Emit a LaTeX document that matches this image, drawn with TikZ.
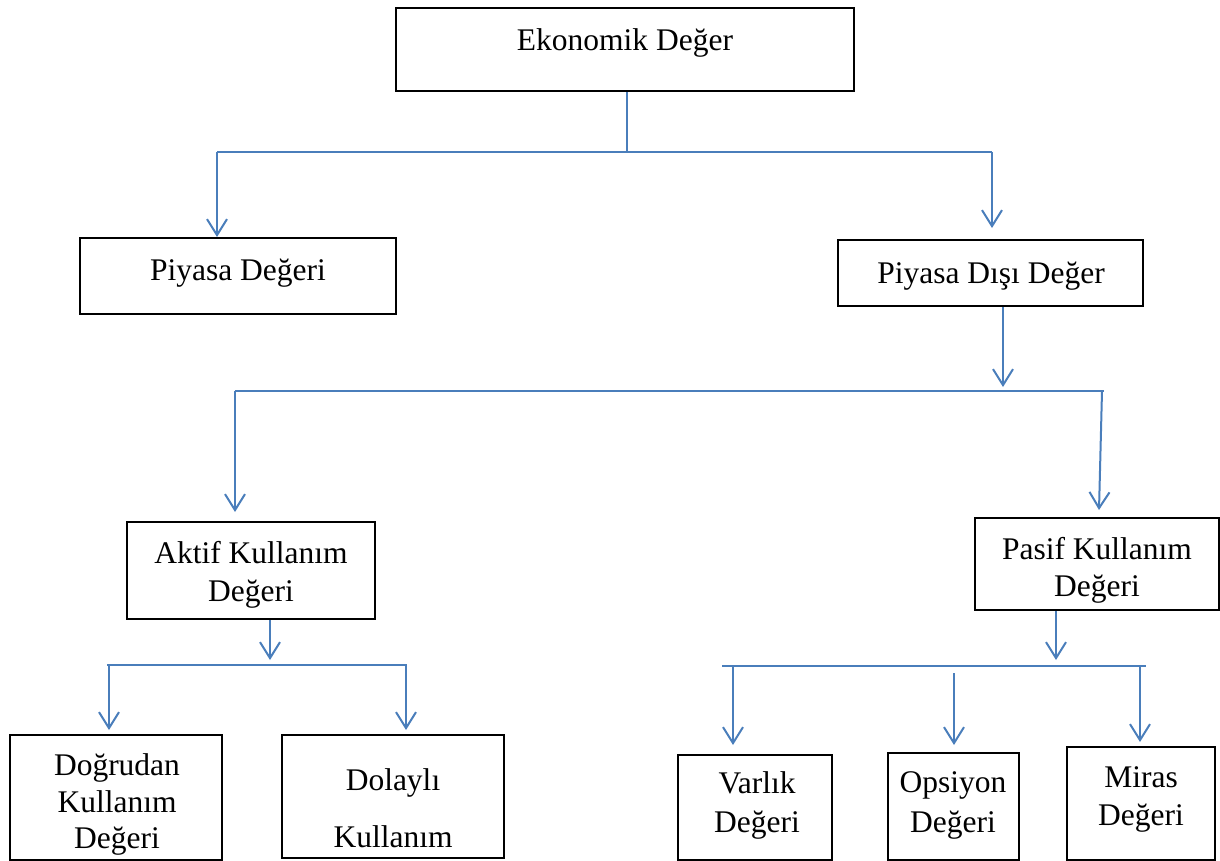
\documentclass[tikz,border=0pt]{standalone}
\usepackage{fontspec}
\setmainfont{Liberation Serif}
\usetikzlibrary{arrows.meta}
\definecolor{lnblue}{HTML}{4A7EBB}
\tikzset{
  box/.style={draw=black, line width=2pt, rectangle, inner sep=0pt},
  lbl/.style={anchor=base, inner sep=0pt, font=\fontsize{31.5}{38}\selectfont},
  conn/.style={draw=lnblue, line width=2pt},
  arr/.style={conn, -{Straight Barb[length=16pt, width=20pt, line width=2pt]}}
}
\begin{document}
\begin{tikzpicture}[x=1pt,y=-1pt]
\useasboundingbox (0,0) rectangle (1220,861);
% boxes
\node[box, minimum width=458pt, minimum height=83pt] (eco) at (625,49.5) {};
\node[box, minimum width=316pt, minimum height=76pt] (piyasa) at (238,276) {};
\node[box, minimum width=305pt, minimum height=66pt] (disi) at (990.5,273) {};
\node[box, minimum width=248pt, minimum height=97pt] (aktif) at (251,570.5) {};
\node[box, minimum width=244pt, minimum height=92pt] (pasif) at (1096.5,564) {};
\node[box, minimum width=212pt, minimum height=125pt] (dogru) at (116,797.5) {};
\node[box, minimum width=222pt, minimum height=123pt] (dolayli) at (393,796.5) {};
\node[box, minimum width=154pt, minimum height=105pt] (varlik) at (755,807.5) {};
\node[box, minimum width=131pt, minimum height=107pt] (opsiyon) at (953.5,806.5) {};
\node[box, minimum width=148pt, minimum height=113pt] (miras) at (1141,803.5) {};
% texts
\node[lbl] (t-eco) at (625,51) {Ekonomik Değer};
\node[lbl] (t-piyasa) at (238,280) {Piyasa Değeri};
\node[lbl] (t-disi) at (991,283) {Piyasa Dışı Değer};
\node[lbl] (t-aktif1) at (251,563) {Aktif Kullanım};
\node[lbl] (t-aktif2) at (251,601) {Değeri};
\node[lbl] (t-pasif1) at (1097,559) {Pasif Kullanım};
\node[lbl] (t-pasif2) at (1097,596) {Değeri};
\node[lbl] (t-dogru1) at (117,775) {Doğrudan};
\node[lbl] (t-dogru2) at (117,812) {Kullanım};
\node[lbl] (t-dogru3) at (117,848) {Değeri};
\node[lbl] (t-dol1) at (393,790) {Dolaylı};
\node[lbl] (t-dol2) at (393,847) {Kullanım};
\node[lbl] (t-var1) at (757,793) {Varlık};
\node[lbl] (t-var2) at (757,832) {Değeri};
\node[lbl] (t-ops1) at (953,792) {Opsiyon};
\node[lbl] (t-ops2) at (953,832) {Değeri};
\node[lbl] (t-mir1) at (1141,787) {Miras};
\node[lbl] (t-mir2) at (1141,825) {Değeri};
% junction coordinates
\coordinate (j0) at (627,152);
\coordinate (a1) at (217,152);
\coordinate (a2) at (992,152);
\coordinate (a2t) at (992,228);
\coordinate (b0) at (1003,387);
\coordinate (b1) at (235,391);
\coordinate (b2) at (1104,391);
\coordinate (b1t) at (235,512);
\coordinate (b2s) at (1102,391);
\coordinate (b2t) at (1099,510);
\coordinate (c0) at (270,660);
\coordinate (c1) at (107,665);
\coordinate (c2) at (407,665);
\coordinate (c1s) at (109,665);
\coordinate (c1t) at (109,730);
\coordinate (c2s) at (406,665);
\coordinate (c2t) at (406,730);
\coordinate (d0) at (1056,660);
\coordinate (d1) at (722,666);
\coordinate (d2) at (1146,666);
\coordinate (d1s) at (733,667);
\coordinate (d1t) at (733,745);
\coordinate (d2s) at (954,673);
\coordinate (d2t) at (954,745);
\coordinate (d3s) at (1140,667);
\coordinate (d3t) at (1140,742);
% connectors
\draw[conn] (eco.south -| j0) -- (j0);
\draw[conn] (a1) -- (a2);
\draw[arr] (a1) -- (a1 |- piyasa.north);
\draw[arr] (a2) -- (a2t);
\draw[arr] (disi.south -| b0) -- (b0);
\draw[conn] (b1) -- (b2);
\draw[arr] (b1) -- (b1t);
\draw[arr] (b2s) -- (b2t);
\draw[arr] (aktif.south -| c0) -- (c0);
\draw[conn] (c1) -- (c2);
\draw[arr] (c1s) -- (c1t);
\draw[arr] (c2s) -- (c2t);
\draw[arr] (pasif.south -| d0) -- (d0);
\draw[conn] (d1) -- (d2);
\draw[arr] (d1s) -- (d1t);
\draw[arr] (d2s) -- (d2t);
\draw[arr] (d3s) -- (d3t);
\end{tikzpicture}
\end{document}
